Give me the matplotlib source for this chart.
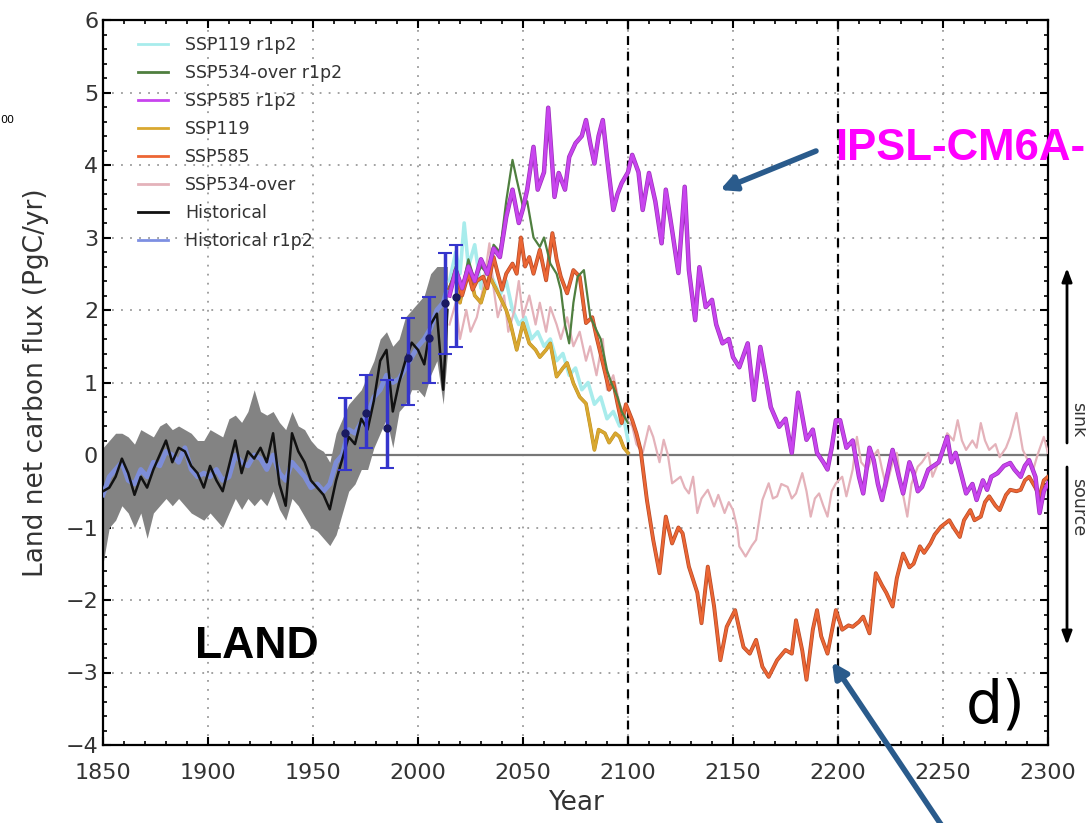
import numpy as np
import matplotlib
matplotlib.use("Agg")
import matplotlib.pyplot as plt
from matplotlib.lines import Line2D
from matplotlib.ticker import MultipleLocator
import matplotlib.patheffects as pe

# ---------------- data ----------------
hist_years = list(range(1850, 2013, 3)) + [2014]
hist_black = [-0.5, -0.45, -0.3, -0.05, -0.25, -0.55, -0.3, -0.45, -0.2, 0.0, 0.2, -0.1, 0.1, 0.05,
              -0.15, -0.25, -0.45, -0.15, -0.35, -0.5, -0.15, 0.2, -0.25, 0.05, -0.05, 0.1, -0.1, 0.3,
              -0.4, -0.7, 0.3, 0.05, -0.1, -0.35, -0.45, -0.55, -0.75, -0.35, -0.05, 0.25, 0.15, 0.5,
              0.35, 0.75, 1.3, 1.45, 0.6, 1.0, 1.3, 1.55, 1.45, 1.25, 1.8, 1.95, 0.9, 2.0]
hist_blue = [-0.55, -0.3, -0.2, -0.1, -0.35, -0.4, -0.2, -0.3, -0.1, -0.15, 0.05, 0.0, -0.1, 0.1,
             -0.2, -0.3, -0.25, -0.3, -0.2, -0.35, -0.3, 0.0, -0.1, -0.15, 0.0, -0.05, -0.2, 0.0,
             -0.25, -0.35, -0.1, -0.2, -0.3, -0.45, -0.4, -0.5, -0.4, -0.1, 0.0, 0.35, 0.3, 0.45,
             0.55, 0.8, 0.9, 1.1, 1.0, 1.05, 1.2, 1.35, 1.5, 1.6, 1.75, 2.0, 2.1, 2.3]
hist_hi = [0.1, 0.2, 0.3, 0.3, 0.25, 0.15, 0.35, 0.3, 0.25, 0.4, 0.45, 0.35, 0.4, 0.35,
           0.3, 0.2, 0.2, 0.35, 0.3, 0.25, 0.5, 0.55, 0.45, 0.6, 0.9, 0.6, 0.55, 0.6,
           0.45, 0.35, 0.6, 0.4, 0.35, 0.2, 0.1, 0.05, -0.1, 0.3, 0.5, 0.7, 0.8, 0.9,
           1.1, 1.3, 1.6, 1.7, 1.5, 1.6, 1.9, 2.0, 2.1, 2.2, 2.5, 2.6, 2.6, 2.6]
hist_lo = [-1.5, -1.0, -0.9, -0.7, -0.8, -1.0, -0.8, -1.15, -0.8, -0.7, -0.6, -0.7, -0.6, -0.7,
           -0.8, -0.85, -0.9, -0.8, -0.9, -1.0, -0.8, -0.6, -0.75, -0.6, -0.7, -0.6, -0.7, -0.5,
           -0.75, -0.9, -0.6, -0.7, -0.85, -1.0, -1.05, -1.15, -1.25, -1.1, -0.8, -0.5, -0.4, -0.2,
           -0.2, 0.1, 0.3, 0.5, 0.1, 0.6, 0.7, 0.9, 0.9, 0.8, 1.1, 1.3, 0.7, 1.4]

obs_years = [1965, 1975, 1985, 1995, 2005, 2013, 2018]
obs_mean = [0.3, 0.58, 0.37, 1.34, 1.61, 2.1, 2.18]
obs_lo = [-0.2, 0.1, -0.18, 0.69, 0.99, 1.4, 1.49]
obs_hi = [0.78, 1.1, 1.03, 1.89, 2.18, 2.79, 2.9]

ssp585r_years = [2015, 2018, 2021, 2024, 2027, 2030, 2033, 2036, 2039, 2042, 2045, 2048, 2050, 2052, 2055,
                 2057, 2060, 2062, 2065, 2067, 2070, 2072, 2075, 2078, 2080, 2082, 2084, 2086, 2088, 2090,
                 2093, 2095, 2097, 2100, 2102, 2105, 2107, 2110, 2113, 2116, 2118, 2121, 2124, 2127, 2129,
                 2132, 2134, 2137, 2140, 2142, 2145, 2148, 2150, 2153, 2157, 2160, 2163, 2166, 2168, 2172,
                 2175, 2178, 2181, 2185, 2188, 2190, 2193, 2195, 2197, 2199, 2201, 2204, 2207, 2210, 2212,
                 2215, 2217, 2219, 2221, 2224, 2226, 2229, 2231, 2234, 2236, 2238, 2240, 2243, 2245, 2248,
                 2252, 2254, 2256, 2259, 2261, 2264, 2266, 2269, 2271, 2273, 2276, 2279, 2282, 2284, 2287,
                 2289, 2291, 2294, 2296, 2298, 2300]
ssp585r_vals = [2.2, 2.55, 2.3, 2.6, 2.4, 2.7, 2.5, 2.85, 2.73, 3.28, 3.66, 3.2, 3.4, 3.66, 4.25,
                3.66, 3.9, 4.79, 3.56, 3.89, 3.66, 4.11, 4.3, 4.4, 4.62, 4.3, 4.02, 4.4, 4.62, 4.1,
                3.38, 3.6, 3.75, 3.9, 4.14, 3.9, 3.38, 3.89, 3.5, 2.92, 3.66, 3.1, 2.51, 3.7, 2.55,
                1.86, 2.59, 2.04, 2.14, 1.8, 1.54, 1.6, 1.35, 1.21, 1.54, 0.76, 1.49, 1.0, 0.66, 0.39,
                0.5, 0.03, 0.86, 0.21, 0.35, 0.03, -0.1, -0.2, 0.1, 0.48, 0.48, 0.1, 0.2, -0.3, -0.53,
                0.1, -0.07, -0.4, -0.62, -0.2, 0.07, -0.3, -0.53, -0.1, -0.25, -0.5, -0.44, -0.2, -0.16, -0.1,
                0.25, -0.1, 0.03, -0.3, -0.53, -0.4, -0.62, -0.35, -0.48, -0.3, -0.25, -0.15, -0.11, -0.2, -0.3,
                -0.15, -0.07, -0.3, -0.8, -0.5, -0.39]

ssp585_years = [2015, 2018, 2021, 2024, 2026, 2028, 2031, 2033, 2036, 2038, 2040, 2042, 2045, 2047, 2049,
                2051, 2053, 2055, 2058, 2061, 2064, 2066, 2068, 2071, 2074, 2077, 2080, 2083, 2085, 2088,
                2091, 2093, 2095, 2097, 2099, 2102, 2104, 2106, 2109, 2112, 2115, 2118, 2121, 2124, 2126,
                2129, 2133, 2135, 2138, 2141, 2144, 2147, 2151, 2153, 2155, 2158, 2161, 2164, 2167, 2171,
                2175, 2178, 2180, 2183, 2185, 2188, 2190, 2192, 2195, 2199, 2202, 2205, 2207, 2210, 2212,
                2215, 2218, 2221, 2223, 2226, 2228, 2231, 2234, 2236, 2239, 2241, 2244, 2246, 2249, 2253,
                2255, 2258, 2260, 2263, 2265, 2268, 2270, 2272, 2275, 2277, 2280, 2282, 2285, 2287, 2289,
                2291, 2294, 2296, 2298, 2300]
ssp585_vals = [2.3, 2.5, 2.2, 2.5, 2.28, 2.4, 2.46, 2.3, 2.73, 2.5, 2.28, 2.5, 2.64, 2.5, 3.0,
               2.6, 2.73, 2.5, 2.83, 2.41, 3.06, 2.7, 2.46, 2.23, 2.55, 2.46, 1.82, 1.9, 1.63, 1.27,
               0.9, 1.0, 0.71, 0.44, 0.7, 0.48, 0.3, 0.07, -0.62, -1.17, -1.63, -0.85, -1.22, -1.0, -1.08,
               -1.54, -1.9, -2.32, -1.54, -2.09, -2.83, -2.37, -2.14, -2.4, -2.65, -2.74, -2.55, -2.92, -3.06, -2.83,
               -2.69, -2.74, -2.28, -2.7, -3.1, -2.41, -2.14, -2.5, -2.74, -2.14, -2.41, -2.35, -2.37, -2.3, -2.23,
               -2.46, -1.63, -1.8, -1.9, -2.09, -1.7, -1.36, -1.55, -1.5, -1.26, -1.35, -1.22, -1.1, -0.99, -0.9,
               -1.0, -1.13, -0.9, -0.76, -0.9, -0.85, -0.65, -0.57, -0.7, -0.76, -0.55, -0.48, -0.5, -0.48, -0.35,
               -0.3, -0.45, -0.57, -0.35, -0.3]

ssp534_years = [2015, 2018, 2020, 2023, 2025, 2028, 2031, 2034, 2036, 2038, 2041, 2043, 2046, 2048, 2050,
                2053, 2056, 2058, 2061, 2063, 2066, 2068, 2071, 2074, 2077, 2080, 2082, 2085, 2088, 2090,
                2093, 2096, 2099, 2102, 2104, 2107, 2110, 2112, 2115, 2117, 2119, 2121, 2125, 2127, 2129,
                2131, 2133, 2135, 2138, 2141, 2143, 2146, 2148, 2150, 2152, 2153, 2156, 2159, 2161, 2163,
                2164, 2167, 2169, 2171, 2173, 2176, 2178, 2180, 2183, 2185, 2187, 2189, 2191, 2193, 2195,
                2197, 2199, 2202, 2204, 2207, 2209, 2211, 2214, 2216, 2219, 2221, 2223, 2226, 2228, 2230,
                2233, 2235, 2238, 2240, 2243, 2245, 2247, 2250, 2252, 2255, 2257, 2259, 2261, 2264, 2266,
                2268, 2270, 2272, 2275, 2277, 2280, 2282, 2285, 2288, 2290, 2293, 2295, 2298, 2300]
ssp534_vals = [1.8, 2.1, 1.6, 2.0, 1.7, 1.9, 2.3, 2.92, 2.3, 1.9, 2.2, 1.7, 2.0, 2.4, 1.9,
               2.2, 1.8, 2.1, 1.7, 2.04, 1.8, 1.6, 1.9, 1.5, 1.7, 1.3, 1.5, 1.1, 1.6, 0.9,
               1.1, 0.7, 0.5, 0.4, 0.15, 0.03, 0.4, 0.25, -0.1, 0.21, 0.0, -0.39, -0.3, -0.45, -0.53,
               -0.3, -0.8, -0.6, -0.48, -0.71, -0.55, -0.8, -0.65, -0.76, -1.0, -1.26, -1.4, -1.25, -1.17, -0.8,
               -0.62, -0.39, -0.6, -0.57, -0.4, -0.44, -0.6, -0.53, -0.25, -0.5, -0.85, -0.6, -0.53, -0.7, -0.85,
               -0.5, -0.39, -0.3, -0.57, -0.2, 0.25, -0.1, -0.2, -0.05, 0.07, -0.2, -0.44, -0.1, 0.03, -0.4,
               -0.85, -0.4, -0.16, -0.1, 0.03, -0.3, -0.16, 0.1, 0.3, 0.2, 0.48, 0.2, 0.07, 0.2, 0.1,
               0.44, 0.2, 0.07, 0.15, -0.03, 0.1, 0.25, 0.58, 0.07, -0.05, -0.2, 0.0, 0.25, 0.03]

ssp534r_years = [2015, 2018, 2021, 2024, 2027, 2030, 2033, 2036, 2039, 2042, 2045, 2047, 2050, 2052, 2055,
                 2058, 2060, 2063, 2066, 2068, 2070, 2072, 2074, 2076, 2079, 2082, 2085, 2087, 2090, 2092,
                 2095, 2097, 2100]
ssp534r_vals = [2.3, 2.6, 2.3, 2.7, 2.4, 2.6, 2.5, 2.9, 2.8, 3.5, 4.07, 3.8, 3.42, 3.5, 3.0,
                2.87, 3.0, 2.64, 2.5, 2.28, 1.8, 1.54, 2.1, 2.46, 2.55, 1.91, 1.72, 1.6, 1.17, 1.0,
                0.8, 0.6, 0.44]

ssp119_years = [2015, 2018, 2020, 2022, 2025, 2027, 2030, 2032, 2034, 2037, 2039, 2042, 2044, 2047, 2050,
                2053, 2056, 2058, 2061, 2063, 2066, 2069, 2071, 2074, 2077, 2080, 2082, 2084, 2086, 2089,
                2091, 2094, 2096, 2098, 2100]
ssp119_vals = [2.3, 2.5, 2.1, 2.4, 2.46, 2.2, 2.1, 2.3, 2.46, 2.3, 2.18, 2.0, 1.82, 1.45, 1.82,
               1.54, 1.45, 1.35, 1.45, 1.54, 1.08, 1.2, 1.27, 0.99, 0.8, 0.71, 0.4, 0.07, 0.35, 0.3,
               0.17, 0.3, 0.25, 0.1, 0.03]

ssp119r_years = [2015, 2018, 2020, 2022, 2024, 2027, 2030, 2033, 2036, 2039, 2042, 2045, 2048, 2051, 2054,
                 2057, 2060, 2063, 2066, 2069, 2072, 2075, 2078, 2081, 2084, 2087, 2090, 2093, 2096, 2098,
                 2100]
ssp119r_vals = [2.4, 2.8, 2.5, 3.2, 2.6, 2.9, 2.3, 2.6, 2.4, 2.2, 2.4, 2.0, 1.8, 1.9, 1.6,
                1.7, 1.5, 1.6, 1.3, 1.4, 1.1, 1.2, 0.9, 1.0, 0.7, 0.8, 0.5, 0.6, 0.4, 0.5,
                0.2]

legend_labels = ["SSP119 r1p2", "SSP534-over r1p2", "SSP585 r1p2", "SSP119", "SSP585",
                 "SSP534-over", "Historical", "Historical r1p2"]

# ---------------- colours ----------------
c_cyan = "#a8ecec"
c_green = "#4f7f3f"
c_mag = "#c844ee"
c_gold = "#d9a830"
c_orange = "#ec6634"
c_pink = "#e4b2ba"
c_black = "#111111"
c_blue = "#7d8fe2"
txt = "#333333"

plt.rcParams['font.family'] = ['DejaVu Sans']

fig = plt.figure(figsize=(10.86, 8.23), dpi=100)
ax = fig.add_axes([103 / 1086, 1 - 745 / 823, 945 / 1086, 725 / 823])

# grid
ax.set_xlim(1850, 2300)
ax.set_ylim(-4, 6)
ax.xaxis.set_major_locator(MultipleLocator(50))
ax.xaxis.set_minor_locator(MultipleLocator(10))
ax.yaxis.set_major_locator(MultipleLocator(1))
ax.yaxis.set_minor_locator(MultipleLocator(0.2))
ax.grid(True, which='major', color='#9a9a9a', linestyle=(0, (1, 4)), linewidth=1.3)
ax.set_axisbelow(True)
ax.axhline(0, color='#777777', lw=1.6, zorder=1)
for xv in (2100, 2200):
    ax.axvline(xv, color='black', lw=1.6, linestyle=(0, (4, 3)), zorder=1)

# historical
ax.fill_between(hist_years, hist_lo, hist_hi, color='#838383', lw=0, zorder=2)
ax.plot(hist_years, hist_blue, color=c_blue, lw=3.5, alpha=0.9, zorder=3)
ax.plot(hist_years, hist_black, color=c_black, lw=1.8, zorder=4)

# scenarios
ax.plot(ssp119r_years, ssp119r_vals, color=c_cyan, lw=2.6, zorder=5)
ax.plot(ssp534_years, ssp534_vals, color=c_pink, lw=1.6, zorder=5)
ax.plot(ssp119_years, ssp119_vals, color=c_gold, lw=2.0, zorder=6,
        path_effects=[pe.Stroke(linewidth=2.6, foreground='#b98a20'), pe.Normal()])
ax.plot(ssp585_years, ssp585_vals, color=c_orange, lw=1.8, zorder=7,
        path_effects=[pe.Stroke(linewidth=2.8, foreground='#b44a28'), pe.Normal()])
ax.plot(ssp534r_years, ssp534r_vals, color=c_green, lw=1.6, zorder=8)
ax.plot(ssp585r_years, ssp585r_vals, color=c_mag, lw=2.2, zorder=9,
        path_effects=[pe.Stroke(linewidth=3.2, foreground='#9a30b8'), pe.Normal()])

# observations
yerr = [np.array(obs_mean) - np.array(obs_lo), np.array(obs_hi) - np.array(obs_mean)]
ax.errorbar(obs_years, obs_mean, yerr=yerr, fmt='o', color='#1a1a60', ms=5,
            ecolor='#3535cc', elinewidth=2.5, capsize=5, capthick=1.5, zorder=10)

# ticks
ax.tick_params(which='both', direction='in', top=True, right=True, colors='black',
               labelcolor=txt, labelsize=16)
ax.tick_params(which='major', length=6, width=1.5)
ax.tick_params(which='minor', length=3, width=1.2)
ax.tick_params(axis='x', which='major', pad=13)
for s in ax.spines.values():
    s.set_linewidth(1.6)
ax.set_xticks([1850, 1900, 1950, 2000, 2050, 2100, 2150, 2200, 2250, 2300])
ax.set_xlabel("Year", fontsize=19, color=txt, labelpad=5)
ax.set_ylabel("Land net carbon flux (PgC/yr)", fontsize=19, color=txt, labelpad=12)

# legend
handles = [Line2D([], [], color=c_cyan, lw=2), Line2D([], [], color=c_green, lw=2),
           Line2D([], [], color=c_mag, lw=2), Line2D([], [], color=c_gold, lw=2),
           Line2D([], [], color=c_orange, lw=2), Line2D([], [], color=c_pink, lw=2),
           Line2D([], [], color=c_black, lw=2), Line2D([], [], color=c_blue, lw=2)]
leg = ax.legend(handles, legend_labels, loc='upper left', bbox_to_anchor=(0.03, 0.988),
                frameon=False, fontsize=12.5, handlelength=1.7, handletextpad=1.0,
                labelspacing=0.58, borderaxespad=0)
for t in leg.get_texts():
    t.set_color(txt)

# annotations
fig.text(0.0, 1 - 120 / 823, "00", fontsize=8, color='black', va='center', ha='left')
fig.text(835 / 1086, 1 - 148 / 823, "IPSL-CM6A-", fontsize=31.5, fontweight='bold',
         color='#ff00ff', family=['Liberation Sans', 'DejaVu Sans'], va='center', ha='left')
fig.text(195 / 1086, 1 - 646 / 823, "LAND", fontsize=32, fontweight='bold', color='black',
         family=['Liberation Sans', 'DejaVu Sans'], va='center', ha='left')
fig.text(966 / 1086, 1 - 706 / 823, "d)", fontsize=42, color='black', va='center', ha='left')

arrow_blue = "#2a5b8c"
ax.annotate("", xy=(720 / 1086, 1 - 190 / 823), xycoords='figure fraction',
            xytext=(816 / 1086, 1 - 151 / 823), textcoords='figure fraction',
            arrowprops=dict(arrowstyle='-|>,head_length=0.9,head_width=0.45', lw=4,
                            color=arrow_blue, shrinkA=0, shrinkB=0), annotation_clip=False)
ax.annotate("", xy=(832 / 1086, 1 - 662 / 823), xycoords='figure fraction',
            xytext=(942 / 1086, 1 - 826 / 823), textcoords='figure fraction',
            arrowprops=dict(arrowstyle='-|>,head_length=0.9,head_width=0.45', lw=4,
                            color=arrow_blue, shrinkA=0, shrinkB=0), annotation_clip=False)

# sink / source arrows
ax.annotate("", xy=(1067 / 1086, 1 - 268 / 823), xycoords='figure fraction',
            xytext=(1067 / 1086, 1 - 443 / 823), textcoords='figure fraction',
            arrowprops=dict(arrowstyle='-|>,head_length=0.8,head_width=0.3', lw=2,
                            color='black', shrinkA=0, shrinkB=0), annotation_clip=False)
ax.annotate("", xy=(1067 / 1086, 1 - 645 / 823), xycoords='figure fraction',
            xytext=(1067 / 1086, 1 - 467 / 823), textcoords='figure fraction',
            arrowprops=dict(arrowstyle='-|>,head_length=0.8,head_width=0.3', lw=2,
                            color='black', shrinkA=0, shrinkB=0), annotation_clip=False)
fig.text(1078 / 1086, 1 - 420 / 823, "sink", rotation=270, fontsize=12.5, color=txt,
         va='center', ha='center')
fig.text(1078 / 1086, 1 - 507 / 823, "source", rotation=270, fontsize=12.5, color=txt,
         va='center', ha='center')

fig.savefig("out.png", dpi=100)
